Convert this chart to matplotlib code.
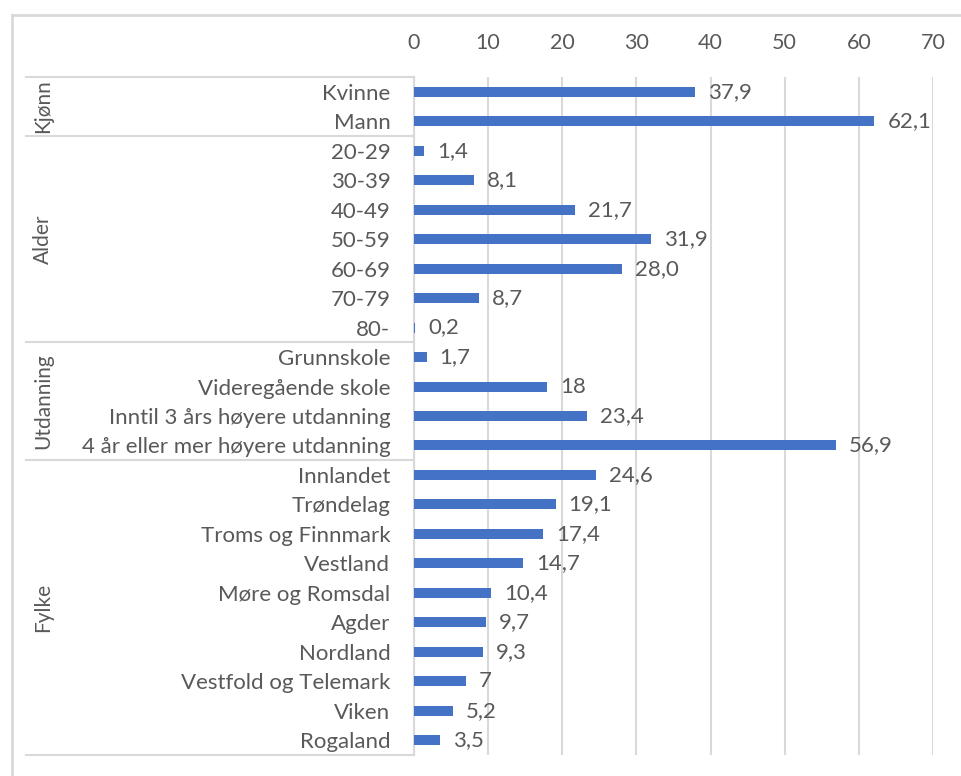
import numpy as np
import matplotlib
matplotlib.use('Agg')
import matplotlib.pyplot as plt
from matplotlib.lines import Line2D

plt.rcParams['font.family'] = ['Lato', 'DejaVu Sans']

# Data
categories = ['Kvinne', 'Mann',
              '20-29', '30-39', '40-49', '50-59', '60-69', '70-79', '80-',
              'Grunnskole', 'Videregående skole', 'Inntil 3 års høyere utdanning',
              '4 år eller mer høyere utdanning',
              'Innlandet', 'Trøndelag', 'Troms og Finnmark', 'Vestland', 'Møre og Romsdal',
              'Agder', 'Nordland', 'Vestfold og Telemark', 'Viken', 'Rogaland']
values = [37.9, 62.1,
          1.4, 8.1, 21.7, 31.9, 28.0, 8.7, 0.2,
          1.7, 18, 23.4, 56.9,
          24.6, 19.1, 17.4, 14.7, 10.4, 9.7, 9.3, 7, 5.2, 3.5]
value_labels = ['37,9', '62,1',
                '1,4', '8,1', '21,7', '31,9', '28,0', '8,7', '0,2',
                '1,7', '18', '23,4', '56,9',
                '24,6', '19,1', '17,4', '14,7', '10,4', '9,7', '9,3', '7', '5,2', '3,5']
groups = ['Kjønn', 'Alder', 'Utdanning', 'Fylke']
group_sizes = [2, 7, 4, 10]

W, H = 962, 776
text_col = '#595959'
grid_col = '#D9D9D9'
bar_col = '#4472C4'

fig = plt.figure(figsize=(W / 100, H / 100), dpi=100)
ax_left, ax_right, ax_top, ax_bot = 414, 933, 77, 755
ax = fig.add_axes([ax_left / W, 1 - ax_bot / H, (ax_right - ax_left) / W, (ax_bot - ax_top) / H])

y = np.arange(len(categories))
ax.barh(y, values, height=0.34, color=bar_col, zorder=3)
ax.set_xlim(0, 70)
ax.set_ylim(len(categories) - 0.5, -0.5)
ax.set_xticks(np.arange(0, 71, 10))
ax.xaxis.tick_top()
ax.tick_params(axis='x', length=0, pad=17, labelsize=15.5, labelcolor=text_col)
ax.set_yticks(y)
ax.set_yticklabels(categories)
ax.tick_params(axis='y', length=0, pad=17, labelsize=16, labelcolor=text_col)
ax.grid(axis='x', color=grid_col, linewidth=1.5, zorder=0)
for s in ['top', 'right', 'bottom']:
    ax.spines[s].set_visible(False)
ax.spines['left'].set_color(grid_col)
ax.spines['left'].set_linewidth(1.5)

for yi, v, lab in zip(y, values, value_labels):
    ax.annotate(lab, (v, yi), xytext=(13, 0), textcoords='offset pixels',
                ha='left', va='center', fontsize=16, color=text_col)

# multi-level category box
def fx(px):
    return px / W

def fy(py):
    return 1 - py / H

row_h = (ax_bot - ax_top) / len(categories)
start = 0
bounds = [ax_top]
for g, n in zip(groups, group_sizes):
    y0 = ax_top + start * row_h
    y1 = ax_top + (start + n) * row_h
    bounds.append(y1)
    fig.text(fx(43), fy((y0 + y1) / 2), g, rotation=90, ha='center', va='center',
             fontsize=15, color=text_col)
    start += n
for b in bounds:
    fig.add_artist(Line2D([fx(26), fx(ax_left)], [fy(b), fy(b)], color=grid_col, linewidth=1.5))

# outer chart border
fig.add_artist(Line2D([fx(12), fx(W)], [fy(15), fy(15)], color=grid_col, linewidth=2))
fig.add_artist(Line2D([fx(12), fx(12)], [fy(15), 0], color=grid_col, linewidth=2))

fig.savefig('out.png', dpi=100, facecolor='white')
